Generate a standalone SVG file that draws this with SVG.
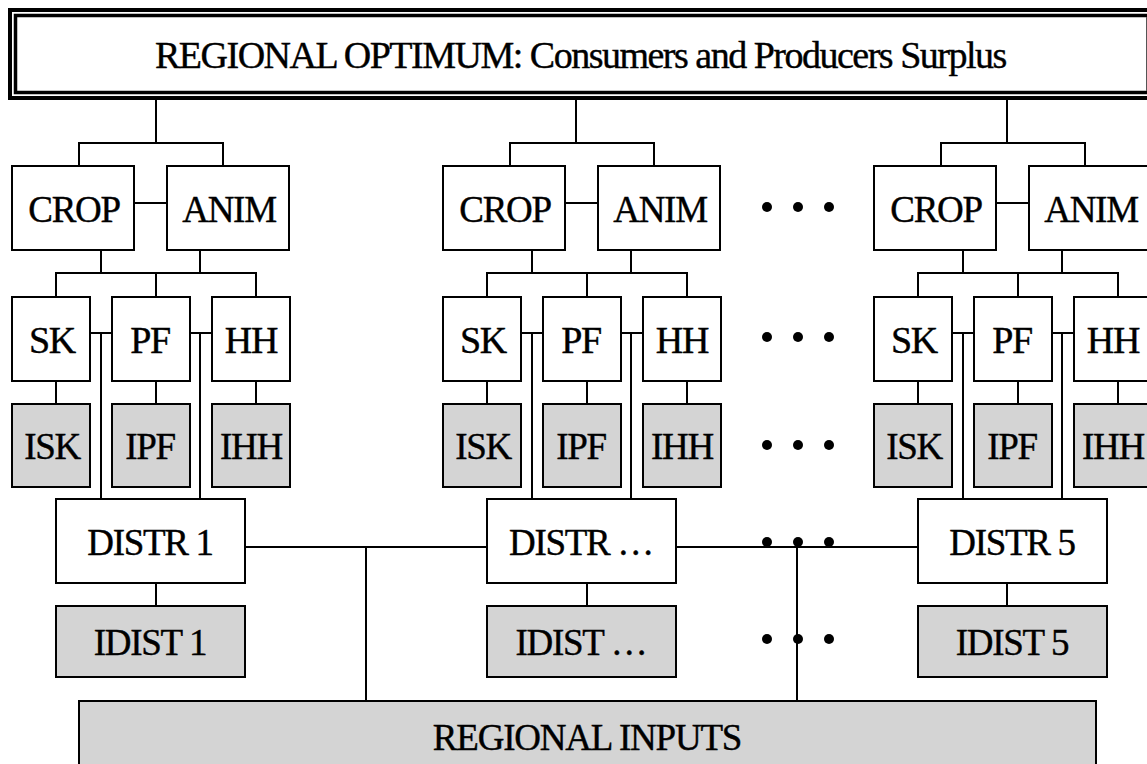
<svg xmlns="http://www.w3.org/2000/svg" width="1147" height="764" viewBox="0 0 1147 764">
<style>
.box{fill:#fff;stroke:#000;stroke-width:2}
.gbox{fill:#d4d4d4;stroke:#000;stroke-width:2}
.t{font-family:"Liberation Serif","Times New Roman",serif;font-size:37px;letter-spacing:-1.3px;text-anchor:middle;fill:#000;stroke:#000;stroke-width:0.4}
.tb{font-size:38px}
.title{font-family:"Liberation Serif","Times New Roman",serif;font-size:38px;letter-spacing:-1.5px;fill:#000;stroke:#000;stroke-width:0.4}
#connectors line,#connectors path{stroke:#000;stroke-width:2;fill:none}
.dot{fill:#000}
</style>
<rect width="1147" height="764" fill="#fff"/>
<g id="top">
<rect x="10" y="10" width="1150" height="88" fill="#fff" stroke="#000" stroke-width="4"/>
<rect x="15.5" y="15.5" width="1140" height="77" fill="none" stroke="#000" stroke-width="3.5"/>
<line x1="1146.5" y1="17" x2="1146.5" y2="91" stroke="#555" stroke-width="1"/>
<text class="title" x="155" y="68">REGIONAL OPTIMUM: Consumers and Producers Surplus</text>
</g>
<g id="connectors">
<path d="M156 100V143M79 166V143H223V166"/>
<line x1="134" y1="203" x2="167" y2="203"/>
<path d="M101 250V273M200 250V273M56 297V273H256V297M156 273V297"/>
<path d="M90 333H112M190 333H212M101 333V499M200 333V499"/>
<path d="M56 381V404M156 381V404M256 381V404"/>
<line x1="156" y1="583" x2="156" y2="606"/>
<path d="M576 100V143M510 166V143H654V166"/>
<line x1="565" y1="203" x2="598" y2="203"/>
<path d="M532 250V273M631 250V273M487 297V273H687V297M587 273V297"/>
<path d="M521 333H543M621 333H643M532 333V499M631 333V499"/>
<path d="M487 381V404M587 381V404M687 381V404"/>
<line x1="587" y1="583" x2="587" y2="606"/>
<path d="M1007 100V143M941 166V143H1085V166"/>
<line x1="996" y1="203" x2="1029" y2="203"/>
<path d="M963 250V273M1062 250V273M918 297V273H1118V297M1018 273V297"/>
<path d="M952 333H974M1052 333H1074M963 333V499M1062 333V499"/>
<path d="M918 381V404M1018 381V404M1118 381V404"/>
<line x1="1007" y1="583" x2="1007" y2="606"/>
<path d="M245 547H487M676 547H918M366 547V701M797 547V701"/>
</g>
<g id="dots">
<circle class="dot" cx="767" cy="207" r="5"/><circle class="dot" cx="798" cy="207" r="5"/><circle class="dot" cx="829" cy="207" r="5"/>
<circle class="dot" cx="767" cy="337" r="5"/><circle class="dot" cx="798" cy="337" r="5"/><circle class="dot" cx="829" cy="337" r="5"/>
<circle class="dot" cx="767" cy="445" r="5"/><circle class="dot" cx="798" cy="445" r="5"/><circle class="dot" cx="829" cy="445" r="5"/>
<circle class="dot" cx="767" cy="542" r="5"/><circle class="dot" cx="798" cy="542" r="5"/><circle class="dot" cx="829" cy="542" r="5"/>
<circle class="dot" cx="767" cy="639" r="5"/><circle class="dot" cx="798" cy="639" r="5"/><circle class="dot" cx="829" cy="639" r="5"/>
</g>
<g id="crop1"><rect class="box" x="12" y="166" width="122" height="84"/><text class="t" x="74" y="222">CROP</text></g>
<g id="anim1"><rect class="box" x="167" y="166" width="122" height="84"/><text class="t" x="229" y="222">ANIM</text></g>
<g id="sk1"><rect class="box" x="12" y="297" width="78" height="84"/><text class="t tb" x="52" y="353">SK</text></g>
<g id="pf1"><rect class="box" x="112" y="297" width="78" height="84"/><text class="t tb" x="150" y="353">PF</text></g>
<g id="hh1"><rect class="box" x="212" y="297" width="78" height="84"/><text class="t tb" x="251" y="353">HH</text></g>
<g id="isk1"><rect class="gbox" x="12" y="404" width="78" height="83"/><text class="t" x="52" y="459">ISK</text></g>
<g id="ipf1"><rect class="gbox" x="112" y="404" width="78" height="83"/><text class="t" x="150" y="459">IPF</text></g>
<g id="ihh1"><rect class="gbox" x="212" y="404" width="78" height="83"/><text class="t" x="251" y="459">IHH</text></g>
<g id="distr1"><rect class="box" x="56" y="499" width="189" height="84"/><text class="t" x="150" y="555">DISTR 1</text></g>
<g id="idist1"><rect class="gbox" x="56" y="606" width="189" height="71"/><text class="t" x="150" y="655">IDIST 1</text></g>
<g id="crop2"><rect class="box" x="443" y="166" width="122" height="84"/><text class="t" x="505" y="222">CROP</text></g>
<g id="anim2"><rect class="box" x="598" y="166" width="122" height="84"/><text class="t" x="660" y="222">ANIM</text></g>
<g id="sk2"><rect class="box" x="443" y="297" width="78" height="84"/><text class="t tb" x="483" y="353">SK</text></g>
<g id="pf2"><rect class="box" x="543" y="297" width="78" height="84"/><text class="t tb" x="581" y="353">PF</text></g>
<g id="hh2"><rect class="box" x="643" y="297" width="78" height="84"/><text class="t tb" x="682" y="353">HH</text></g>
<g id="isk2"><rect class="gbox" x="443" y="404" width="78" height="83"/><text class="t" x="483" y="459">ISK</text></g>
<g id="ipf2"><rect class="gbox" x="543" y="404" width="78" height="83"/><text class="t" x="581" y="459">IPF</text></g>
<g id="ihh2"><rect class="gbox" x="643" y="404" width="78" height="83"/><text class="t" x="682" y="459">IHH</text></g>
<g id="distr2"><rect class="box" x="487" y="499" width="189" height="84"/><text class="t" x="581" y="555">DISTR …</text></g>
<g id="idist2"><rect class="gbox" x="487" y="606" width="189" height="71"/><text class="t" x="581" y="655">IDIST …</text></g>
<g id="crop3"><rect class="box" x="874" y="166" width="122" height="84"/><text class="t" x="936" y="222">CROP</text></g>
<g id="anim3"><rect class="box" x="1029" y="166" width="122" height="84"/><text class="t" x="1091" y="222">ANIM</text></g>
<g id="sk3"><rect class="box" x="874" y="297" width="78" height="84"/><text class="t tb" x="914" y="353">SK</text></g>
<g id="pf3"><rect class="box" x="974" y="297" width="78" height="84"/><text class="t tb" x="1012" y="353">PF</text></g>
<g id="hh3"><rect class="box" x="1074" y="297" width="78" height="84"/><text class="t tb" x="1113" y="353">HH</text></g>
<g id="isk3"><rect class="gbox" x="874" y="404" width="78" height="83"/><text class="t" x="914" y="459">ISK</text></g>
<g id="ipf3"><rect class="gbox" x="974" y="404" width="78" height="83"/><text class="t" x="1012" y="459">IPF</text></g>
<g id="ihh3"><rect class="gbox" x="1074" y="404" width="78" height="83"/><text class="t" x="1113" y="459">IHH</text></g>
<g id="distr3"><rect class="box" x="918" y="499" width="189" height="84"/><text class="t" x="1012" y="555">DISTR 5</text></g>
<g id="idist3"><rect class="gbox" x="918" y="606" width="189" height="71"/><text class="t" x="1012" y="655">IDIST 5</text></g>
<g id="inputs"><rect class="gbox" x="79" y="701" width="1017" height="80"/><text class="t" x="587" y="750" style="font-size:37px;letter-spacing:-1.2px">REGIONAL INPUTS</text></g>
</svg>
